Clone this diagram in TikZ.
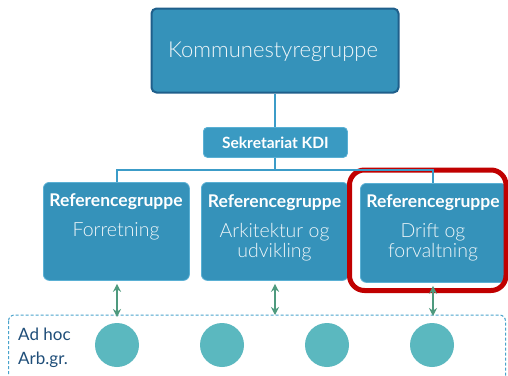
\documentclass[tikz,border=0pt]{standalone}
\usepackage{fontspec}
\setmainfont{Lato}
\newfontfamily\lightfont{Lato Light}
\usetikzlibrary{arrows.meta}
\definecolor{boxfill}{HTML}{3592BA}
\definecolor{boxdark}{HTML}{1F5F8B}
\definecolor{sekfill}{HTML}{3A9AC2}
\definecolor{sekline}{HTML}{5AB0D4}
\definecolor{conn}{HTML}{3C9CC8}
\definecolor{arrowgreen}{HTML}{4E9A7E}
\definecolor{circ}{HTML}{5BB8BF}
\definecolor{hired}{HTML}{C00000}
\definecolor{dashblue}{HTML}{4AA3CC}
\definecolor{navy}{HTML}{1F4E79}
\tikzset{
  refbox/.style={draw=sekline, line width=0.8pt, fill=boxfill, rounded corners=6pt, anchor=north west, inner sep=0pt},
  reftitle/.style={text=white, font=\fontsize{17.5}{19}\selectfont\bfseries, inner sep=0pt},
  refsub/.style={text=white!92!boxfill, font=\lightfont\fontsize{19.5}{20}\selectfont, align=center, inner sep=0pt},
  connline/.style={draw=conn, line width=1.5pt},
  dblarrow/.style={draw=arrowgreen, line width=1.3pt, {Stealth[length=8pt,width=8pt]}-{Stealth[length=8pt,width=8pt]}},
  adhoc/.style={circle, fill=circ, minimum size=44pt, inner sep=0pt}
}
\begin{document}
\begin{tikzpicture}[x=1pt,y=-1pt]
\clip (0,0) rectangle (508,375);
\fill[white] (0,0) rectangle (508,375);
% top box
\node[draw=boxdark, line width=2pt, fill=boxfill, rounded corners=5pt, anchor=north west,
      minimum width=247pt, minimum height=84pt, inner sep=0pt] (top) at (150.5,7.5) {};
\node[text=white!92!boxfill, font=\lightfont\fontsize{22}{24}\selectfont, inner sep=0pt] (toptext) at (273,52) {Kommunestyregruppe};
% secretariat
\node[draw=sekline, line width=0.8pt, fill=sekfill, rounded corners=4pt, anchor=north west,
      minimum width=144pt, minimum height=30pt, inner sep=0pt] (sek) at (203,127) {};
\node[text=white, font=\fontsize{15.5}{16}\selectfont\bfseries, inner sep=0pt] (sektext) at (sek.center) {Sekretariat KDI};
% reference group boxes
\node[refbox, minimum width=146pt, minimum height=98pt] (b1) at (43,182) {};
\node[refbox, minimum width=147pt, minimum height=98pt] (b2) at (201,182) {};
\node[refbox, minimum width=146pt, minimum height=99pt] (b3) at (360,183) {};
% red highlight
\draw[hired, line width=5pt, rounded corners=15pt] (349.5,170) rectangle (506,290.5);
% titles
\node[reftitle] (t1) at (116,202) {Referencegruppe};
\node[reftitle] (t2) at (274.5,203) {Referencegruppe};
\node[reftitle] (t3) at (433,203) {Referencegruppe};
\node[refsub, anchor=north] (s1) at (116,222) {Forretning};
\node[refsub, anchor=north] (s2) at (274.5,223) {Arkitektur og\\udvikling};
\node[refsub, anchor=north] (s3) at (433,223) {Drift og\\forvaltning};
% connectors
\coordinate (hl) at (117,170);
\coordinate (hr) at (433,170);
\coordinate (hm) at (275,170);
\draw[connline] (top.south -| hm) -- (sek.north -| hm);
\draw[connline] (sek.south -| hm) -- (hm);
\draw[connline] (b1.north -| hl) -- (hl) -- (hr) -- (b3.north -| hr);
% dashed area
\draw[dashblue, line width=1pt, dash pattern=on 3pt off 2pt, rounded corners=6pt] (8.5,315) rectangle (505.5,400);
\node[text=navy, font=\fontsize{17}{24}\selectfont, align=left, anchor=west, inner sep=0pt] (adh) at (18,348) {Ad hoc\\Arb.gr.};
\node[adhoc] (c1) at (117,345) {};
\node[adhoc] (c2) at (222,345) {};
\node[adhoc] (c3) at (327,345) {};
\node[adhoc] (c4) at (432,345) {};
% arrows
\coordinate (a1) at (117,317);
\coordinate (a2) at (275,315);
\coordinate (a3) at (433,316);
\draw[dblarrow] (b1.south -| a1) ++(0,3) -- (a1);
\draw[dblarrow] (b2.south -| a2) ++(0,3) -- (a2);
\draw[dblarrow] (b3.south -| a3) ++(0,3) -- (a3);
\end{tikzpicture}
\end{document}
